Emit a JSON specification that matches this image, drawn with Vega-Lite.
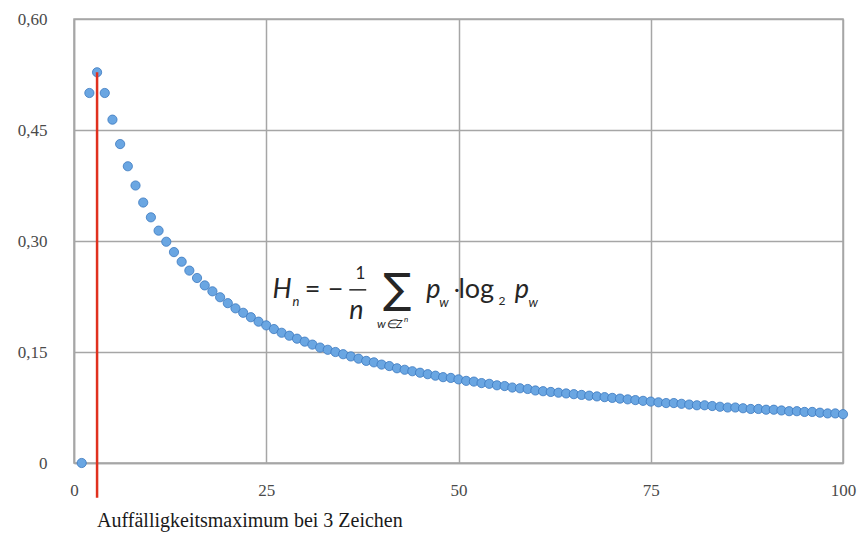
{
  "$schema": "https://vega.github.io/schema/vega-lite/v6.json",
  "width": 769,
  "height": 444,
  "autosize": {"type": "none"},
  "padding": {"left": 74, "top": 19, "right": 15, "bottom": 71},
  "background": "white",
  "config": {
    "view": {"stroke": "#a6a6a6", "strokeWidth": 1.5},
    "axis": {
      "grid": true,
      "gridColor": "#a6a6a6",
      "gridWidth": 1.5,
      "gridOpacity": 1,
      "domainColor": "#a6a6a6",
      "domainWidth": 1.5,
      "ticks": false,
      "labelFont": "Liberation Serif",
      "labelFontSize": 17,
      "labelColor": "#4a4a4a",
      "labelFlush": false,
      "title": null
    }
  },
  "datasets": {
    "pts": [
      {"x":1,"y":0},{"x":2,"y":0.5},{"x":3,"y":0.528},{"x":4,"y":0.5},{"x":5,"y":0.464},
      {"x":6,"y":0.431},{"x":7,"y":0.401},{"x":8,"y":0.375},{"x":9,"y":0.352},{"x":10,"y":0.332},
      {"x":11,"y":0.314},{"x":12,"y":0.299},{"x":13,"y":0.285},{"x":14,"y":0.272},{"x":15,"y":0.26},
      {"x":16,"y":0.25},{"x":17,"y":0.24},{"x":18,"y":0.232},{"x":19,"y":0.224},{"x":20,"y":0.216},
      {"x":21,"y":0.209},{"x":22,"y":0.203},{"x":23,"y":0.197},{"x":24,"y":0.191},{"x":25,"y":0.186},
      {"x":26,"y":0.181},{"x":27,"y":0.176},{"x":28,"y":0.172},{"x":29,"y":0.168},{"x":30,"y":0.164},
      {"x":31,"y":0.16},{"x":32,"y":0.156},{"x":33,"y":0.153},{"x":34,"y":0.15},{"x":35,"y":0.147},
      {"x":36,"y":0.144},{"x":37,"y":0.141},{"x":38,"y":0.138},{"x":39,"y":0.136},{"x":40,"y":0.133},
      {"x":41,"y":0.131},{"x":42,"y":0.128},{"x":43,"y":0.126},{"x":44,"y":0.124},{"x":45,"y":0.122},
      {"x":46,"y":0.12},{"x":47,"y":0.118},{"x":48,"y":0.116},{"x":49,"y":0.115},{"x":50,"y":0.113},
      {"x":51,"y":0.111},{"x":52,"y":0.11},{"x":53,"y":0.108},{"x":54,"y":0.107},{"x":55,"y":0.105},
      {"x":56,"y":0.104},{"x":57,"y":0.102},{"x":58,"y":0.101},{"x":59,"y":0.1},{"x":60,"y":0.098},
      {"x":61,"y":0.097},{"x":62,"y":0.096},{"x":63,"y":0.095},{"x":64,"y":0.094},{"x":65,"y":0.093},
      {"x":66,"y":0.092},{"x":67,"y":0.091},{"x":68,"y":0.09},{"x":69,"y":0.089},{"x":70,"y":0.088},
      {"x":71,"y":0.087},{"x":72,"y":0.086},{"x":73,"y":0.085},{"x":74,"y":0.084},{"x":75,"y":0.083},
      {"x":76,"y":0.082},{"x":77,"y":0.081},{"x":78,"y":0.081},{"x":79,"y":0.08},{"x":80,"y":0.079},
      {"x":81,"y":0.078},{"x":82,"y":0.078},{"x":83,"y":0.077},{"x":84,"y":0.076},{"x":85,"y":0.075},
      {"x":86,"y":0.075},{"x":87,"y":0.074},{"x":88,"y":0.073},{"x":89,"y":0.073},{"x":90,"y":0.072},
      {"x":91,"y":0.072},{"x":92,"y":0.071},{"x":93,"y":0.07},{"x":94,"y":0.07},{"x":95,"y":0.069},
      {"x":96,"y":0.069},{"x":97,"y":0.068},{"x":98,"y":0.067},{"x":99,"y":0.067},{"x":100,"y":0.066}
    ]
  },
  "encoding": {
    "x": {"field": "x", "type": "quantitative", "scale": {"domain": [0, 100], "nice": false},
          "axis": {"values": [0, 25, 50, 75, 100], "labelPadding": 19, "labelBaseline": "top"}},
    "y": {"field": "y", "type": "quantitative", "scale": {"domain": [0, 0.6], "nice": false, "zero": false},
          "axis": {"values": [0, 0.15, 0.3, 0.45, 0.6], "labelPadding": 27,
                   "labelExpr": "datum.value == 0 ? '0' : replace(format(datum.value, '.2f'), '.', ',')"}}
  },
  "layer": [
    {
      "data": {"values": [{"x": 35.8, "x2": 38.0, "y": 0.234}]},
      "mark": {"type": "rule", "color": "#262626", "strokeWidth": 1.5},
      "encoding": {"x2": {"field": "x2"}}
    },
    {
      "data": {"name": "pts"},
      "mark": {"type": "point", "filled": true, "size": 85, "fill": "#6aa6e2", "stroke": "#3b78bf", "strokeWidth": 0.8, "opacity": 1}
    },
    {
      "data": {"values": [{"x": 3, "y": 0.528, "y2": -0.047}]},
      "mark": {"type": "rule", "color": "#e0301e", "strokeWidth": 2.5, "clip": false},
      "encoding": {"y2": {"field": "y2"}}
    },
    {
      "data": {"values": [{"x": 3.0, "y": -0.0865, "t": "Auffälligkeitsmaximum bei 3 Zeichen"}]},
      "mark": {"type": "text", "align": "left", "baseline": "alphabetic", "font": "Liberation Serif", "fontSize": 20, "color": "#1a1a1a", "clip": false},
      "encoding": {"text": {"field": "t"}}
    },
    {
      "data": {"values": [
        {"x": 25.8, "y": 0.223, "t": "H"},
        {"x": 45.8, "y": 0.223, "t": "p"},
        {"x": 57.3, "y": 0.223, "t": "p"},
        {"x": 35.8, "y": 0.194, "t": "n"}
      ]},
      "mark": {"type": "text", "align": "left", "baseline": "alphabetic", "font": "Lato", "fontSize": 27, "fontStyle": "italic", "color": "#262626"},
      "encoding": {"text": {"field": "t"}}
    },
    {
      "data": {"values": [
        {"x": 30.0, "y": 0.223, "t": "="},
        {"x": 33.0, "y": 0.223, "t": "−"},
        {"x": 50.0, "y": 0.223, "t": "log"}
      ]},
      "mark": {"type": "text", "align": "left", "baseline": "alphabetic", "font": "Lato", "fontSize": 27, "color": "#262626"},
      "encoding": {"text": {"field": "t"}}
    },
    {
      "data": {"values": [{"x": 49.4, "y": 0.225, "t": "·"}]},
      "mark": {"type": "text", "align": "left", "baseline": "alphabetic", "font": "Lato", "fontSize": 22, "color": "#262626"},
      "encoding": {"text": {"field": "t"}}
    },
    {
      "data": {"values": [
        {"x": 28.4, "y": 0.212, "t": "n"},
        {"x": 47.5, "y": 0.211, "t": "w"},
        {"x": 59.1, "y": 0.211, "t": "w"}
      ]},
      "mark": {"type": "text", "align": "left", "baseline": "alphabetic", "font": "Lato", "fontSize": 13, "fontStyle": "italic", "color": "#262626"},
      "encoding": {"text": {"field": "t"}}
    },
    {
      "data": {"values": [{"x": 55.2, "y": 0.214, "t": "2"}]},
      "mark": {"type": "text", "align": "left", "baseline": "alphabetic", "font": "Lato", "fontSize": 12, "color": "#262626"},
      "encoding": {"text": {"field": "t"}}
    },
    {
      "data": {"values": [{"x": 36.6, "y": 0.249, "t": "1"}]},
      "mark": {"type": "text", "align": "left", "baseline": "alphabetic", "font": "Lato", "fontSize": 17, "color": "#262626"},
      "encoding": {"text": {"field": "t"}}
    },
    {
      "data": {"values": [{"x": 40.2, "y": 0.216, "t": "∑"}]},
      "mark": {"type": "text", "align": "left", "baseline": "alphabetic", "font": "DejaVu Sans", "fontSize": 42, "color": "#262626"},
      "encoding": {"text": {"field": "t"}}
    },
    {
      "data": {"values": [{"x": 39.4, "y": 0.182, "t": "w∈Z"}]},
      "mark": {"type": "text", "align": "left", "baseline": "alphabetic", "font": "Lato", "fontSize": 12, "fontStyle": "italic", "color": "#262626"},
      "encoding": {"text": {"field": "t"}}
    },
    {
      "data": {"values": [{"x": 42.9, "y": 0.191, "t": "n"}]},
      "mark": {"type": "text", "align": "left", "baseline": "alphabetic", "font": "Lato", "fontSize": 8, "fontStyle": "italic", "color": "#262626"},
      "encoding": {"text": {"field": "t"}}
    }
  ]
}
